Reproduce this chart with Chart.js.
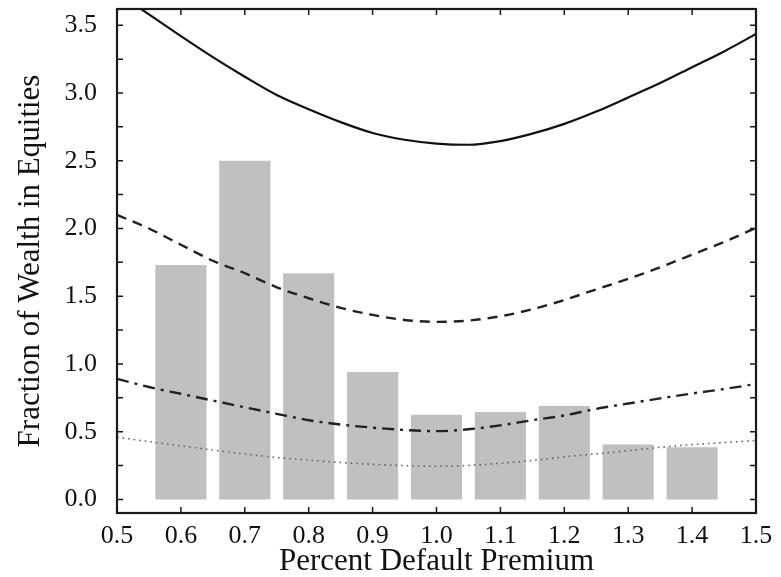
<!DOCTYPE html>
<html>
<head>
<meta charset="utf-8">
<script src="https://cdn.jsdelivr.net/npm/chart.js@4.4.1/dist/chart.umd.min.js"></script>
<style>
  body { margin: 0; background: #fff; }
  #box { width: 781px; height: 577px; }
</style>
</head>
<body>
<div id="box"><canvas id="grafico"></canvas></div>
<script>
// dados
const premios = [0.6, 0.7, 0.8, 0.9, 1.0, 1.1, 1.2, 1.3, 1.4];
const barras = [1.73, 2.50, 1.67, 0.94, 0.625, 0.645, 0.69, 0.405, 0.385];

const xCurva = [0.50, 0.55, 0.60, 0.65, 0.70, 0.75, 0.80, 0.85, 0.90, 0.95, 1.00,
                1.05, 1.10, 1.15, 1.20, 1.25, 1.30, 1.35, 1.40, 1.45, 1.50];
const curvaSolida = [3.74, 3.58, 3.42, 3.265, 3.12, 2.985, 2.88, 2.785, 2.705, 2.655, 2.627,
                     2.618, 2.645, 2.70, 2.772, 2.863, 2.967, 3.073, 3.19, 3.307, 3.435];
const curvaTracejada = [2.10, 2.00, 1.88, 1.762, 1.67, 1.566, 1.485, 1.414, 1.362, 1.325, 1.311,
                        1.320, 1.352, 1.404, 1.472, 1.551, 1.628, 1.714, 1.807, 1.90, 2.005];
const curvaTracoPonto = [0.89, 0.83, 0.78, 0.73, 0.68, 0.632, 0.585, 0.553, 0.53, 0.513, 0.504,
                         0.518, 0.547, 0.585, 0.62, 0.669, 0.708, 0.746, 0.782, 0.815, 0.852];
const curvaPontilhada = [0.46, 0.427, 0.395, 0.365, 0.335, 0.31, 0.29, 0.273, 0.259, 0.25, 0.245,
                         0.251, 0.267, 0.288, 0.314, 0.337, 0.36, 0.385, 0.405, 0.42, 0.435];

const xTicks = [0.5, 0.6, 0.7, 0.8, 0.9, 1.0, 1.1, 1.2, 1.3, 1.4, 1.5];
const yTicks = [0, 0.25, 0.5, 0.75, 1.0, 1.25, 1.5, 1.75, 2.0, 2.25, 2.5, 2.75, 3.0, 3.25, 3.5];

const fonte = "'Liberation Serif', 'Times New Roman', serif";

function pontos(ys) {
    return xCurva.map((x, i) => ({ x: x, y: ys[i] }));
}

function linha(ys, cor, largura, tracos) {
    return {
        type: 'line',
        data: pontos(ys),
        borderColor: cor,
        borderWidth: largura,
        borderDash: tracos,
        pointRadius: 0,
        cubicInterpolationMode: 'monotone',
        fill: false,
        order: 1
    };
}

// moldura e marcas internas
const moldura = {
    id: 'moldura',
    afterDraw(chart) {
        const ctx = chart.ctx;
        const a = chart.chartArea;
        const sx = chart.scales.x, sy = chart.scales.y;
        ctx.save();
        ctx.strokeStyle = '#1a1a1a';
        ctx.lineWidth = 1.5;
        ctx.beginPath();
        sx.ticks.forEach(t => {
            const px = sx.getPixelForValue(t.value);
            ctx.moveTo(px, a.top); ctx.lineTo(px, a.top + 6);
            ctx.moveTo(px, a.bottom); ctx.lineTo(px, a.bottom - 6);
        });
        sy.ticks.forEach(t => {
            const py = sy.getPixelForValue(t.value);
            ctx.moveTo(a.left, py); ctx.lineTo(a.left + 6, py);
            ctx.moveTo(a.right, py); ctx.lineTo(a.right - 6, py);
        });
        ctx.stroke();
        ctx.lineWidth = 2.2;
        ctx.strokeRect(a.left, a.top, a.right - a.left, a.bottom - a.top);
        ctx.restore();
    }
};

const ctx = document.getElementById('grafico').getContext('2d');
new Chart(ctx, {
    data: {
        datasets: [
            {
                type: 'bar',
                data: premios.map((x, i) => ({ x: x, y: barras[i] })),
                backgroundColor: '#c0c0c0',
                borderWidth: 0,
                barPercentage: 0.8,
                categoryPercentage: 1.0,
                order: 10
            },
            linha(curvaSolida, '#111', 2.2, []),
            linha(curvaTracejada, '#222', 2.4, [10, 7]),
            linha(curvaTracoPonto, '#222', 2.4, [12, 6, 3, 6]),
            linha(curvaPontilhada, '#666', 1.6, [1.6, 4])
        ]
    },
    plugins: [moldura],
    options: {
        responsive: true,
        maintainAspectRatio: false,
        animation: false,
        layout: { padding: { top: 9, right: 25, left: 0, bottom: 0 } },
        plugins: { legend: { display: false }, tooltip: { enabled: false } },
        scales: {
            x: {
                type: 'linear',
                min: 0.5,
                max: 1.5,
                offset: false,
                afterBuildTicks: s => { s.ticks = xTicks.map(v => ({ value: v })); },
                afterFit: s => { s.height = 64; s.paddingLeft = 0; s.paddingRight = 0; },
                grid: { display: false, drawTicks: false },
                border: { display: false },
                ticks: {
                    autoSkip: false,
                    maxRotation: 0,
                    padding: 8,
                    color: '#111',
                    font: { family: fonte, size: 26 },
                    callback: v => Number(v).toFixed(1)
                },
                title: {
                    display: true,
                    text: 'Percent Default Premium',
                    color: '#111',
                    font: { family: fonte, size: 31, lineHeight: 1 },
                    padding: { top: 0, bottom: 0 }
                }
            },
            y: {
                type: 'linear',
                min: -0.1,
                max: 3.62,
                afterBuildTicks: s => { s.ticks = yTicks.map(v => ({ value: v })); },
                afterFit: s => { s.width = 117; s.paddingTop = 0; s.paddingBottom = 0; },
                grid: { display: false, drawTicks: false },
                border: { display: false },
                ticks: {
                    autoSkip: false,
                    padding: 20,
                    color: '#111',
                    font: { family: fonte, size: 26 },
                    callback: v => (Math.abs(v * 2 - Math.round(v * 2)) < 1e-6 ? Number(v).toFixed(1) : '')
                },
                title: {
                    display: true,
                    text: 'Fraction of Wealth in Equities',
                    color: '#111',
                    font: { family: fonte, size: 31, lineHeight: 1 },
                    padding: { top: 15, bottom: 0 }
                }
            }
        }
    }
});
</script>
</body>
</html>
